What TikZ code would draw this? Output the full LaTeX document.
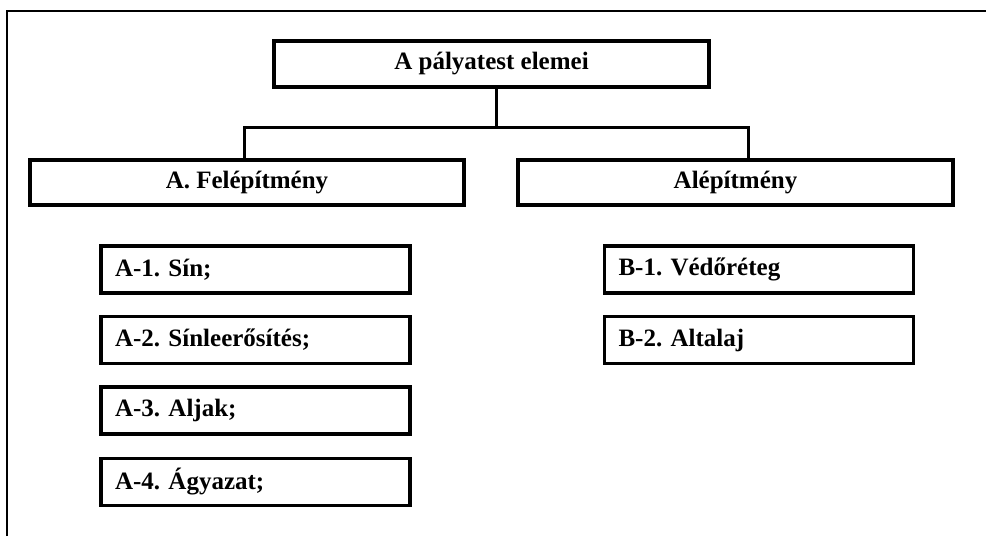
\documentclass[tikz,border=0pt]{standalone}
\usepackage{fontspec}
\setmainfont{Liberation Serif}
\begin{document}
\frenchspacing
\begin{tikzpicture}[x=1pt,y=-1pt,
  every node/.style={font=\fontsize{25}{28}\selectfont\bfseries},
  headbox/.style={draw, line width=3.4pt, rectangle, inner sep=0pt, align=center},
  itembox/.style={draw, line width=3.4pt, rectangle, inner xsep=14pt, inner ysep=0pt,
    text width=281pt, align=left, minimum height=47pt},
  link/.style={line width=3pt},
  frameline/.style={line width=2.6pt}
]
\useasboundingbox[fill=white] (0,0) rectangle (986,536);

% outer frame (open to the right and bottom)
\coordinate (fb) at (7,536);
\coordinate (fc) at (7,11);
\coordinate (fr) at (986,11);
\draw[frameline] (fb) -- (fc) -- (fr);

% headings
\node[headbox, minimum width=435pt, minimum height=46pt] (top) at (491.5,64) {A pályatest elemei};
\node[headbox, minimum width=434pt, minimum height=45pt] (felep) at (247,182.5) {A. Felépítmény};
\node[headbox, minimum width=435pt, minimum height=45pt] (alep) at (735.5,182.5) {Alépítmény};

% items of the superstructure
\node[itembox] (a1) at (255.5,269.5) {A-1. Sín;};
\node[itembox] (a2) at (255.5,340) {A-2. Sínleerősítés;};
\node[itembox] (a3) at (255.5,410.5) {A-3. Aljak;};
\node[itembox] (a4) at (255.5,482) {A-4. Ágyazat;};

% items of the substructure
\node[itembox] (b1) at (759,269.5) {B-1. Védőréteg};
\node[itembox] (b2) at (759,340) {B-2. Altalaj};

% tree connectors
\coordinate (bus) at (496,127);
\coordinate (jl) at (244,127);
\coordinate (jr) at (748,127);
\draw[link] (bus |- top.south) -- (bus);
\draw[link] (jl |- felep.north) -- (jl) -- (jr) -- (jr |- alep.north);
\end{tikzpicture}
\end{document}
